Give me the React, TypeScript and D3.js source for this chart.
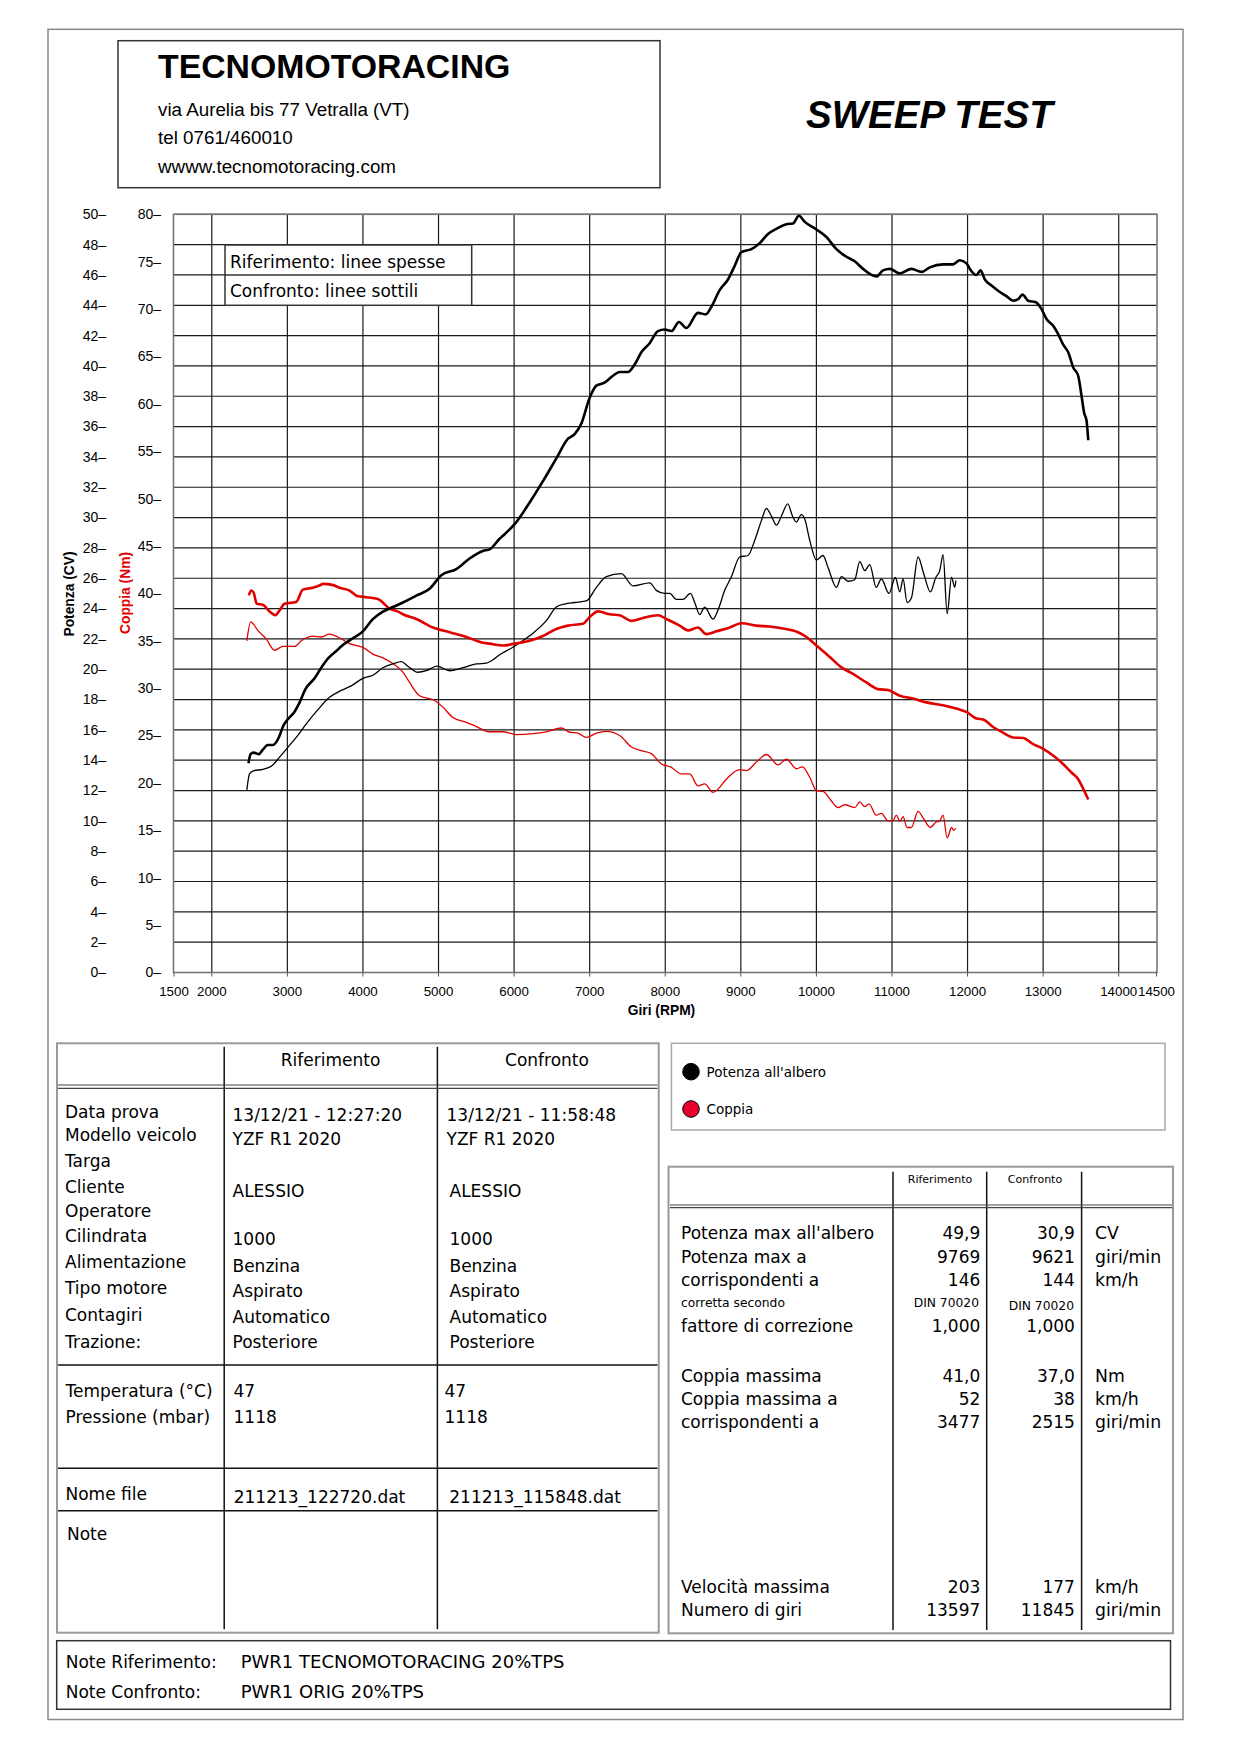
import React from "react";
import * as d3 from "d3";

// ---------- DATA ----------
const rpmTicks = [1500, 2000, 3000, 4000, 5000, 6000, 7000, 8000, 9000, 10000, 11000, 12000, 13000, 14000, 14500];
const gridRpm = [2000, 3000, 4000, 5000, 6000, 7000, 8000, 9000, 10000, 11000, 12000, 13000, 14000];
const powerTicks = [0, 2, 4, 6, 8, 10, 12, 14, 16, 18, 20, 22, 24, 26, 28, 30, 32, 34, 36, 38, 40, 42, 44, 46, 48, 50];
const torqueTicks = [0, 5, 10, 15, 20, 25, 30, 35, 40, 45, 50, 55, 60, 65, 70, 75, 80];

// Riferimento - Potenza (linea spessa nera)
const refPowRpm = [2486, 2513, 2552, 2623, 2676, 2742, 2808, 2887, 2949, 3006, 3095, 3161, 3241, 3360, 3448, 3536, 3647, 3734, 3823, 3999, 4131, 4264, 4396, 4529, 4706, 4882, 5037, 5235, 5411, 5587, 5676, 5808, 5852, 6029, 6206, 6382, 6559, 6713, 6801, 6890, 7000, 7089, 7198, 7308, 7397, 7507, 7595, 7684, 7794, 7904, 7993, 8081, 8182, 8280, 8433, 8535, 8611, 8720, 8830, 8919, 9007, 9140, 9250, 9360, 9492, 9603, 9691, 9769, 9846, 10000, 10133, 10265, 10397, 10507, 10617, 10795, 10882, 10970, 11103, 11257, 11390, 11500, 11676, 11808, 11897, 11986, 12030, 12118, 12171, 12229, 12317, 12404, 12515, 12603, 12669, 12727, 12802, 12903, 12979, 13045, 13133, 13199, 13266, 13332, 13398, 13464, 13509, 13543, 13574, 13597];
const refPow = [13.8, 14.4, 14.5, 14.4, 14.7, 15.0, 15.0, 15.5, 16.3, 16.7, 17.2, 17.8, 18.7, 19.4, 20.1, 20.7, 21.2, 21.6, 21.9, 22.5, 23.3, 23.8, 24.1, 24.4, 24.85, 25.3, 26.2, 26.6, 27.3, 27.8, 27.9, 28.6, 28.8, 29.7, 31.0, 32.4, 33.9, 35.2, 35.5, 36.2, 37.9, 38.7, 38.9, 39.35, 39.6, 39.6, 40.1, 40.9, 41.5, 42.3, 42.4, 42.3, 42.9, 42.5, 43.5, 43.4, 43.9, 45.0, 45.7, 46.6, 47.5, 47.7, 48.1, 48.7, 49.1, 49.35, 49.4, 49.9, 49.5, 49.0, 48.5, 47.7, 47.2, 46.9, 46.4, 45.9, 46.3, 46.4, 46.1, 46.4, 46.2, 46.5, 46.7, 46.7, 46.97, 46.76, 46.4, 46.0, 46.3, 45.7, 45.3, 44.96, 44.6, 44.3, 44.4, 44.7, 44.3, 44.2, 43.75, 43.1, 42.65, 42.1, 41.4, 40.9, 39.9, 39.35, 38.0, 36.9, 36.4, 35.1];

// Riferimento - Coppia (linea spessa rossa)
const refTorRpm = [2490, 2522, 2552, 2596, 2676, 2764, 2843, 2896, 2962, 3117, 3205, 3337, 3416, 3477, 3594, 3690, 3823, 3933, 4044, 4198, 4352, 4485, 4529, 4706, 4926, 5147, 5368, 5587, 5676, 5852, 6007, 6206, 6382, 6559, 6713, 6911, 7000, 7110, 7264, 7397, 7552, 7705, 7904, 8015, 8191, 8301, 8433, 8544, 8677, 8853, 9007, 9206, 9382, 9558, 9757, 9868, 10000, 10176, 10331, 10485, 10662, 10816, 10948, 11103, 11279, 11456, 11676, 11875, 11986, 12118, 12206, 12338, 12470, 12603, 12735, 12868, 13000, 13132, 13264, 13375, 13464, 13530, 13597];
const refTor = [39.8, 40.3, 40.1, 38.9, 38.8, 38.1, 37.7, 38.2, 38.9, 39.1, 40.4, 40.6, 40.8, 41.0, 40.9, 40.6, 40.3, 39.7, 39.6, 39.4, 38.4, 38.0, 37.8, 37.3, 36.4, 35.9, 35.4, 34.8, 34.7, 34.5, 34.7, 35.0, 35.5, 36.25, 36.6, 36.8, 37.5, 38.1, 37.8, 37.7, 37.1, 37.4, 37.7, 37.3, 36.6, 36.1, 36.4, 35.7, 36.0, 36.4, 36.85, 36.6, 36.5, 36.3, 35.9, 35.4, 34.5, 33.3, 32.2, 31.5, 30.6, 29.9, 29.8, 29.2, 28.9, 28.5, 28.2, 27.8, 27.5, 26.8, 26.7, 25.9, 25.3, 24.8, 24.75, 24.1, 23.6, 22.9, 22.0, 21.1, 20.4, 19.4, 18.25];

// Confronto - Potenza (linea sottile nera)
const cmpPowRpm = [2464, 2499, 2552, 2676, 2800, 2896, 3006, 3117, 3250, 3382, 3558, 3713, 3845, 3999, 4131, 4264, 4396, 4507, 4595, 4727, 4838, 4979, 5147, 5323, 5500, 5632, 5742, 5808, 5984, 6206, 6426, 6559, 6668, 6801, 6956, 7089, 7221, 7419, 7573, 7794, 7882, 7993, 8059, 8147, 8235, 8333, 8390, 8456, 8522, 8632, 8698, 8787, 8875, 8985, 9095, 9184, 9272, 9338, 9405, 9471, 9537, 9621, 9683, 9735, 9801, 9846, 9912, 10000, 10088, 10154, 10265, 10331, 10419, 10507, 10573, 10640, 10706, 10790, 10860, 10960, 11045, 11103, 11147, 11200, 11257, 11345, 11420, 11508, 11580, 11632, 11676, 11730, 11788, 11831, 11845];
const cmpPow = [12.04, 13.1, 13.3, 13.4, 13.65, 14.2, 14.85, 15.5, 16.4, 17.2, 18.15, 18.6, 18.9, 19.4, 19.6, 20.1, 20.35, 20.5, 20.2, 19.8, 19.9, 20.2, 19.9, 20.1, 20.35, 20.4, 20.7, 20.95, 21.45, 22.2, 23.2, 24.1, 24.3, 24.4, 24.5, 25.4, 26.1, 26.3, 25.5, 25.7, 25.2, 25.0, 25.0, 24.6, 24.6, 25.0, 24.4, 23.6, 24.1, 23.3, 23.9, 25.2, 26.1, 27.4, 27.5, 28.5, 29.8, 30.6, 30.1, 29.5, 30.1, 30.9, 30.1, 29.7, 30.2, 29.9, 28.5, 27.2, 27.5, 26.7, 25.4, 26.1, 25.8, 25.9, 27.1, 26.5, 26.9, 25.4, 25.95, 25.0, 26.05, 25.1, 25.95, 24.4, 24.7, 27.4, 26.3, 25.1, 26.05, 26.5, 27.55, 23.65, 26.05, 25.4, 25.85];

// Confronto - Coppia (linea sottile rossa)
const cmpTorRpm = [2464, 2515, 2609, 2720, 2830, 2940, 3095, 3184, 3337, 3448, 3558, 3668, 3823, 3999, 4131, 4264, 4396, 4529, 4617, 4749, 4948, 5058, 5190, 5368, 5500, 5676, 5852, 6029, 6249, 6426, 6625, 6735, 6845, 6956, 7089, 7221, 7397, 7552, 7684, 7816, 7949, 8081, 8213, 8324, 8433, 8522, 8632, 8677, 8808, 8985, 9073, 9206, 9338, 9492, 9603, 9735, 9815, 9912, 10000, 10088, 10199, 10286, 10375, 10507, 10573, 10640, 10697, 10790, 10860, 10948, 11010, 11059, 11103, 11147, 11200, 11257, 11345, 11420, 11508, 11580, 11632, 11676, 11730, 11788, 11818, 11845];
const cmpTor = [35.0, 37.0, 36.1, 35.2, 34.0, 34.4, 34.4, 35.0, 35.5, 35.4, 35.7, 35.4, 34.7, 34.3, 33.6, 33.2, 32.6, 31.7, 30.6, 29.2, 28.7, 28.0, 26.9, 26.4, 25.95, 25.4, 25.4, 25.1, 25.2, 25.4, 25.8, 25.35, 25.25, 24.8, 25.25, 25.45, 25.0, 23.8, 23.4, 23.1, 22.0, 21.65, 20.95, 20.95, 19.7, 19.9, 19.0, 19.2, 20.4, 21.4, 21.3, 22.2, 23.0, 21.9, 22.5, 21.5, 21.7, 20.6, 19.2, 19.1, 18.1, 17.4, 17.7, 17.4, 18.0, 17.5, 17.8, 16.6, 16.8, 16.0, 16.0, 16.6, 15.95, 16.45, 15.3, 15.3, 17.0, 16.2, 15.3, 15.85, 16.0, 16.6, 14.2, 15.3, 15.0, 15.2];

// Testi
const headerLines = ["via Aurelia bis 77 Vetralla (VT)", "tel 0761/460010", "wwww.tecnomotoracing.com"];
const infoLabels = ["Data prova", "Modello veicolo", "Targa", "Cliente", "Operatore", "Cilindrata", "Alimentazione", "Tipo motore", "Contagiri", "Trazione:"];
const infoRef = ["13/12/21 - 12:27:20", "YZF R1 2020", "", "ALESSIO", "", "1000", "Benzina", "Aspirato", "Automatico", "Posteriore"];
const infoCmp = ["13/12/21 - 11:58:48", "YZF R1 2020", "", "ALESSIO", "", "1000", "Benzina", "Aspirato", "Automatico", "Posteriore"];
const envLabels = ["Temperatura (°C)", "Pressione (mbar)"];
const envRef = ["47", "1118"];
const envCmp = ["47", "1118"];
const fileRef = "211213_122720.dat";
const fileCmp = "211213_115848.dat";

const resLabels = ["Potenza max all'albero", "Potenza max a", "corrispondenti a", "fattore di correzione", "Coppia massima", "Coppia massima a", "corrispondenti a", "Velocità massima", "Numero di giri"];
const resRef = ["49,9", "9769", "146", "1,000", "41,0", "52", "3477", "203", "13597"];
const resCmp = ["30,9", "9621", "144", "1,000", "37,0", "38", "2515", "177", "11845"];
const resUnit = ["CV", "giri/min", "km/h", "", "Nm", "km/h", "giri/min", "km/h", "giri/min"];

const noteRef = "PWR1 TECNOMOTORACING 20%TPS";
const noteCmp = "PWR1 ORIG 20%TPS";

// ---------- LAYOUT ----------
const W = 1241;
const H = 1754;
const ARIAL = "'Liberation Sans', Arial, Helvetica, sans-serif";
const TAHOMA = "'DejaVu Sans', Verdana, sans-serif";
const RED = "#e00000";

const PL = 174, PR = 1156.5, PT = 214.3, PB = 972.5;

export default function App() {
  const x = d3.scaleLinear().domain([1500, 14500]).range([PL, PR]);
  const yP = d3.scaleLinear().domain([0, 50]).range([PB, PT]);
  const yT = d3.scaleLinear().domain([0, 80]).range([PB, PT]);

  const mk = (rpm: number[], v: number[], y: d3.ScaleLinear<number, number>) =>
    d3.line<number>()
      .x((_, i) => x(rpm[i]))
      .y((d) => y(d))
      .curve(d3.curveMonotoneX)(v) || "";

  const infoLabelY = [1117.5, 1141, 1166.5, 1193, 1216.5, 1241.5, 1268, 1294, 1321, 1348];
  const infoValY = [1120.5, 1145, 1170, 1196.5, 1220, 1245, 1272, 1296.5, 1323, 1348];
  const resY = [1239.3, 1262.7, 1286, 1332.3, 1381.7, 1405, 1428.3, 1593.3, 1616];

  return (
    <div style={{ position: "absolute", left: 0, top: 0, width: W, height: H, background: "#fff" }}>
      <svg width={W} height={H} viewBox={`0 0 ${W} ${H}`} style={{ display: "block" }}>
        <rect x={0} y={0} width={W} height={H} fill="#fff" />
        {/* page frame */}
        <rect x={48} y={29.3} width={1135} height={1690.2} fill="none" stroke="#888" strokeWidth={1.5} />

        {/* header box */}
        <rect x={118} y={40.7} width={542} height={147} fill="none" stroke="#333" strokeWidth={1.5} />
        <text x={158} y={78} fontFamily={ARIAL} fontWeight="bold" fontSize={33.8} fill="#000">TECNOMOTORACING</text>
        {headerLines.map((t, i) => (
          <text key={t} x={158} y={[116, 144, 172.5][i]} fontFamily={ARIAL} fontSize={18.8} fill="#000">{t}</text>
        ))}
        <text x={806} y={127.5} fontFamily={ARIAL} fontWeight="bold" fontStyle="italic" fontSize={38.5} fill="#000">SWEEP TEST</text>

        {/* grid */}
        <g>
          {powerTicks.map((p) => (
            <line key={"h" + p} x1={PL} x2={PR} y1={yP(p)} y2={yP(p)} stroke="#1a1a1a" strokeWidth={1.2} />
          ))}
          {gridRpm.map((r) => (
            <line key={"v" + r} x1={x(r)} x2={x(r)} y1={PT} y2={PB} stroke="#1a1a1a" strokeWidth={1.2} />
          ))}
          <rect x={PL - 0.5} y={PT} width={PR - PL + 1} height={PB - PT} fill="none" stroke="#777" strokeWidth={1.6} />
          {rpmTicks.map((r) => (
            <line key={"t" + r} x1={x(r)} x2={x(r)} y1={PB} y2={PB + 4} stroke="#555" strokeWidth={1} />
          ))}
        </g>

        {/* axis labels */}
        {powerTicks.map((p) => (
          <text key={"pl" + p} x={106} y={yP(p)} dy="0.35em" textAnchor="end" fontFamily={ARIAL} fontSize={14} fill="#000">{p}–</text>
        ))}
        {torqueTicks.map((t) => (
          <text key={"tl" + t} x={161} y={yT(t)} dy="0.35em" textAnchor="end" fontFamily={ARIAL} fontSize={14} fill="#000">{t}–</text>
        ))}
        {rpmTicks.map((r) => (
          <text key={"xl" + r} x={x(r)} y={995.5} textAnchor="middle" fontFamily={ARIAL} fontSize={13.3} fill="#000">{r}</text>
        ))}
        <text x={661.5} y={1015} textAnchor="middle" fontFamily={ARIAL} fontWeight="bold" fontSize={13.8} fill="#000">Giri (RPM)</text>
        <text transform="translate(74,594) rotate(-90)" textAnchor="middle" fontFamily={ARIAL} fontWeight="bold" fontSize={13.8} fill="#000">Potenza (CV)</text>
        <text transform="translate(129.5,593) rotate(-90)" textAnchor="middle" fontFamily={ARIAL} fontWeight="bold" fontSize={13.8} fill={RED}>Coppia (Nm)</text>

        {/* curves */}
        <path d={mk(cmpTorRpm, cmpTor, yT)} fill="none" stroke={RED} strokeWidth={1.3} strokeLinejoin="round" />
        <path d={mk(cmpPowRpm, cmpPow, yP)} fill="none" stroke="#000" strokeWidth={1.3} strokeLinejoin="round" />
        <path d={mk(refTorRpm, refTor, yT)} fill="none" stroke={RED} strokeWidth={2.6} strokeLinejoin="round" />
        <path d={mk(refPowRpm, refPow, yP)} fill="none" stroke="#000" strokeWidth={2.6} strokeLinejoin="round" />

        {/* line style legend */}
        <rect x={225} y={245} width={246.7} height={60.3} fill="#fff" stroke="#333" strokeWidth={1.5} />
        <line x1={225} x2={471.7} y1={275} y2={275} stroke="#333" strokeWidth={1.5} />
        <text x={230} y={268} fontFamily={TAHOMA} fontSize={17} fill="#000">Riferimento: linee spesse</text>
        <text x={230} y={297.3} fontFamily={TAHOMA} fontSize={17} fill="#000">Confronto: linee sottili</text>

        {/* left info table */}
        <rect x={57} y={1043.3} width={601.7} height={589.4} fill="none" stroke="#999" strokeWidth={2} />
        <line x1={224.2} x2={224.2} y1={1046.7} y2={1629.3} stroke="#111" strokeWidth={1.5} />
        <line x1={437.4} x2={437.4} y1={1046.7} y2={1629.3} stroke="#111" strokeWidth={1.5} />
        <line x1={58} x2={657.5} y1={1085} y2={1085} stroke="#444" strokeWidth={1.2} />
        <line x1={58} x2={657.5} y1={1088.3} y2={1088.3} stroke="#444" strokeWidth={1.2} />
        <line x1={58} x2={657.5} y1={1365} y2={1365} stroke="#111" strokeWidth={1.5} />
        <line x1={58} x2={657.5} y1={1468.3} y2={1468.3} stroke="#111" strokeWidth={1.5} />
        <line x1={58} x2={657.5} y1={1510.7} y2={1510.7} stroke="#111" strokeWidth={1.5} />
        <text x={330.6} y={1066} textAnchor="middle" fontFamily={TAHOMA} fontSize={17} fill="#000">Riferimento</text>
        <text x={547} y={1066} textAnchor="middle" fontFamily={TAHOMA} fontSize={17} fill="#000">Confronto</text>
        {infoLabels.map((t, i) => (
          <text key={"il" + i} x={65} y={infoLabelY[i]} fontFamily={TAHOMA} fontSize={17} fill="#000">{t}</text>
        ))}
        {infoRef.map((t, i) => (
          <text key={"ir" + i} x={232.5} y={infoValY[i]} fontFamily={TAHOMA} fontSize={17} fill="#000">{t}</text>
        ))}
        {infoCmp.map((t, i) => (
          <text key={"ic" + i} x={i < 2 ? 446.5 : 449.5} y={infoValY[i]} fontFamily={TAHOMA} fontSize={17} fill="#000">{t}</text>
        ))}
        {envLabels.map((t, i) => (
          <text key={"el" + i} x={65.5} y={[1396.7, 1423][i]} fontFamily={TAHOMA} fontSize={17} fill="#000">{t}</text>
        ))}
        {envRef.map((t, i) => (
          <text key={"er" + i} x={233.5} y={[1396.7, 1423][i]} fontFamily={TAHOMA} fontSize={17} fill="#000">{t}</text>
        ))}
        {envCmp.map((t, i) => (
          <text key={"ec" + i} x={444.5} y={[1396.7, 1423][i]} fontFamily={TAHOMA} fontSize={17} fill="#000">{t}</text>
        ))}
        <text x={65.5} y={1500} fontFamily={TAHOMA} fontSize={17} fill="#000">Nome file</text>
        <text x={233.7} y={1502.7} fontFamily={TAHOMA} fontSize={17} fill="#000">{fileRef}</text>
        <text x={449.3} y={1502.7} fontFamily={TAHOMA} fontSize={17} fill="#000">{fileCmp}</text>
        <text x={67} y={1540} fontFamily={TAHOMA} fontSize={17} fill="#000">Note</text>

        {/* colour legend */}
        <rect x={671.4} y={1043.3} width={493.6} height={86.7} fill="none" stroke="#aaa" strokeWidth={1.5} />
        <circle cx={691} cy={1071.7} r={8.3} fill="#000" stroke="#000" strokeWidth={1} />
        <circle cx={691} cy={1109} r={8.3} fill="#e8002d" stroke="#000" strokeWidth={1} />
        <text x={706.5} y={1076.5} fontFamily={TAHOMA} fontSize={13.5} fill="#000">Potenza all'albero</text>
        <text x={706.5} y={1113.5} fontFamily={TAHOMA} fontSize={13.5} fill="#000">Coppia</text>

        {/* right results table */}
        <rect x={668.5} y={1166.7} width={504.5} height={466.6} fill="none" stroke="#999" strokeWidth={2} />
        {[893, 986.7, 1081.6].map((cx) => (
          <line key={"rc" + cx} x1={cx} x2={cx} y1={1171.7} y2={1630} stroke="#111" strokeWidth={1.5} />
        ))}
        <line x1={670} x2={1172} y1={1205} y2={1205} stroke="#444" strokeWidth={1.2} />
        <line x1={670} x2={1172} y1={1207.6} y2={1207.6} stroke="#444" strokeWidth={1.2} />
        <text x={940} y={1183.3} textAnchor="middle" fontFamily={TAHOMA} fontSize={11} fill="#000">Riferimento</text>
        <text x={1035} y={1183.3} textAnchor="middle" fontFamily={TAHOMA} fontSize={11} fill="#000">Confronto</text>
        {resLabels.map((t, i) => (
          <text key={"rl" + i} x={681} y={resY[i]} fontFamily={TAHOMA} fontSize={17} fill="#000">{t}</text>
        ))}
        {resRef.map((t, i) => (
          <text key={"rr" + i} x={980.3} y={resY[i]} textAnchor="end" fontFamily={TAHOMA} fontSize={17} fill="#000">{t}</text>
        ))}
        {resCmp.map((t, i) => (
          <text key={"rcm" + i} x={1074.9} y={resY[i]} textAnchor="end" fontFamily={TAHOMA} fontSize={17} fill="#000">{t}</text>
        ))}
        {resUnit.map((t, i) => (
          <text key={"ru" + i} x={1095} y={resY[i]} fontFamily={TAHOMA} fontSize={17.3} fill="#000">{t}</text>
        ))}
        <text x={681} y={1307.3} fontFamily={TAHOMA} fontSize={12.3} fill="#000">corretta secondo</text>
        <text x={979} y={1307.3} textAnchor="end" fontFamily={TAHOMA} fontSize={12.3} fill="#000">DIN 70020</text>
        <text x={1074} y={1309.5} textAnchor="end" fontFamily={TAHOMA} fontSize={12.3} fill="#000">DIN 70020</text>

        {/* notes box */}
        <rect x={56.7} y={1640.7} width={1113.8} height={68.6} fill="none" stroke="#333" strokeWidth={1.5} />
        <text x={65.7} y={1668.3} fontFamily={TAHOMA} fontSize={17} fill="#000">Note Riferimento:</text>
        <text x={240.7} y={1668.3} fontFamily={TAHOMA} fontSize={18} fill="#000">{noteRef}</text>
        <text x={65.7} y={1698.3} fontFamily={TAHOMA} fontSize={17} fill="#000">Note Confronto:</text>
        <text x={240.7} y={1698.3} fontFamily={TAHOMA} fontSize={18} fill="#000">{noteCmp}</text>
      </svg>
    </div>
  );
}
